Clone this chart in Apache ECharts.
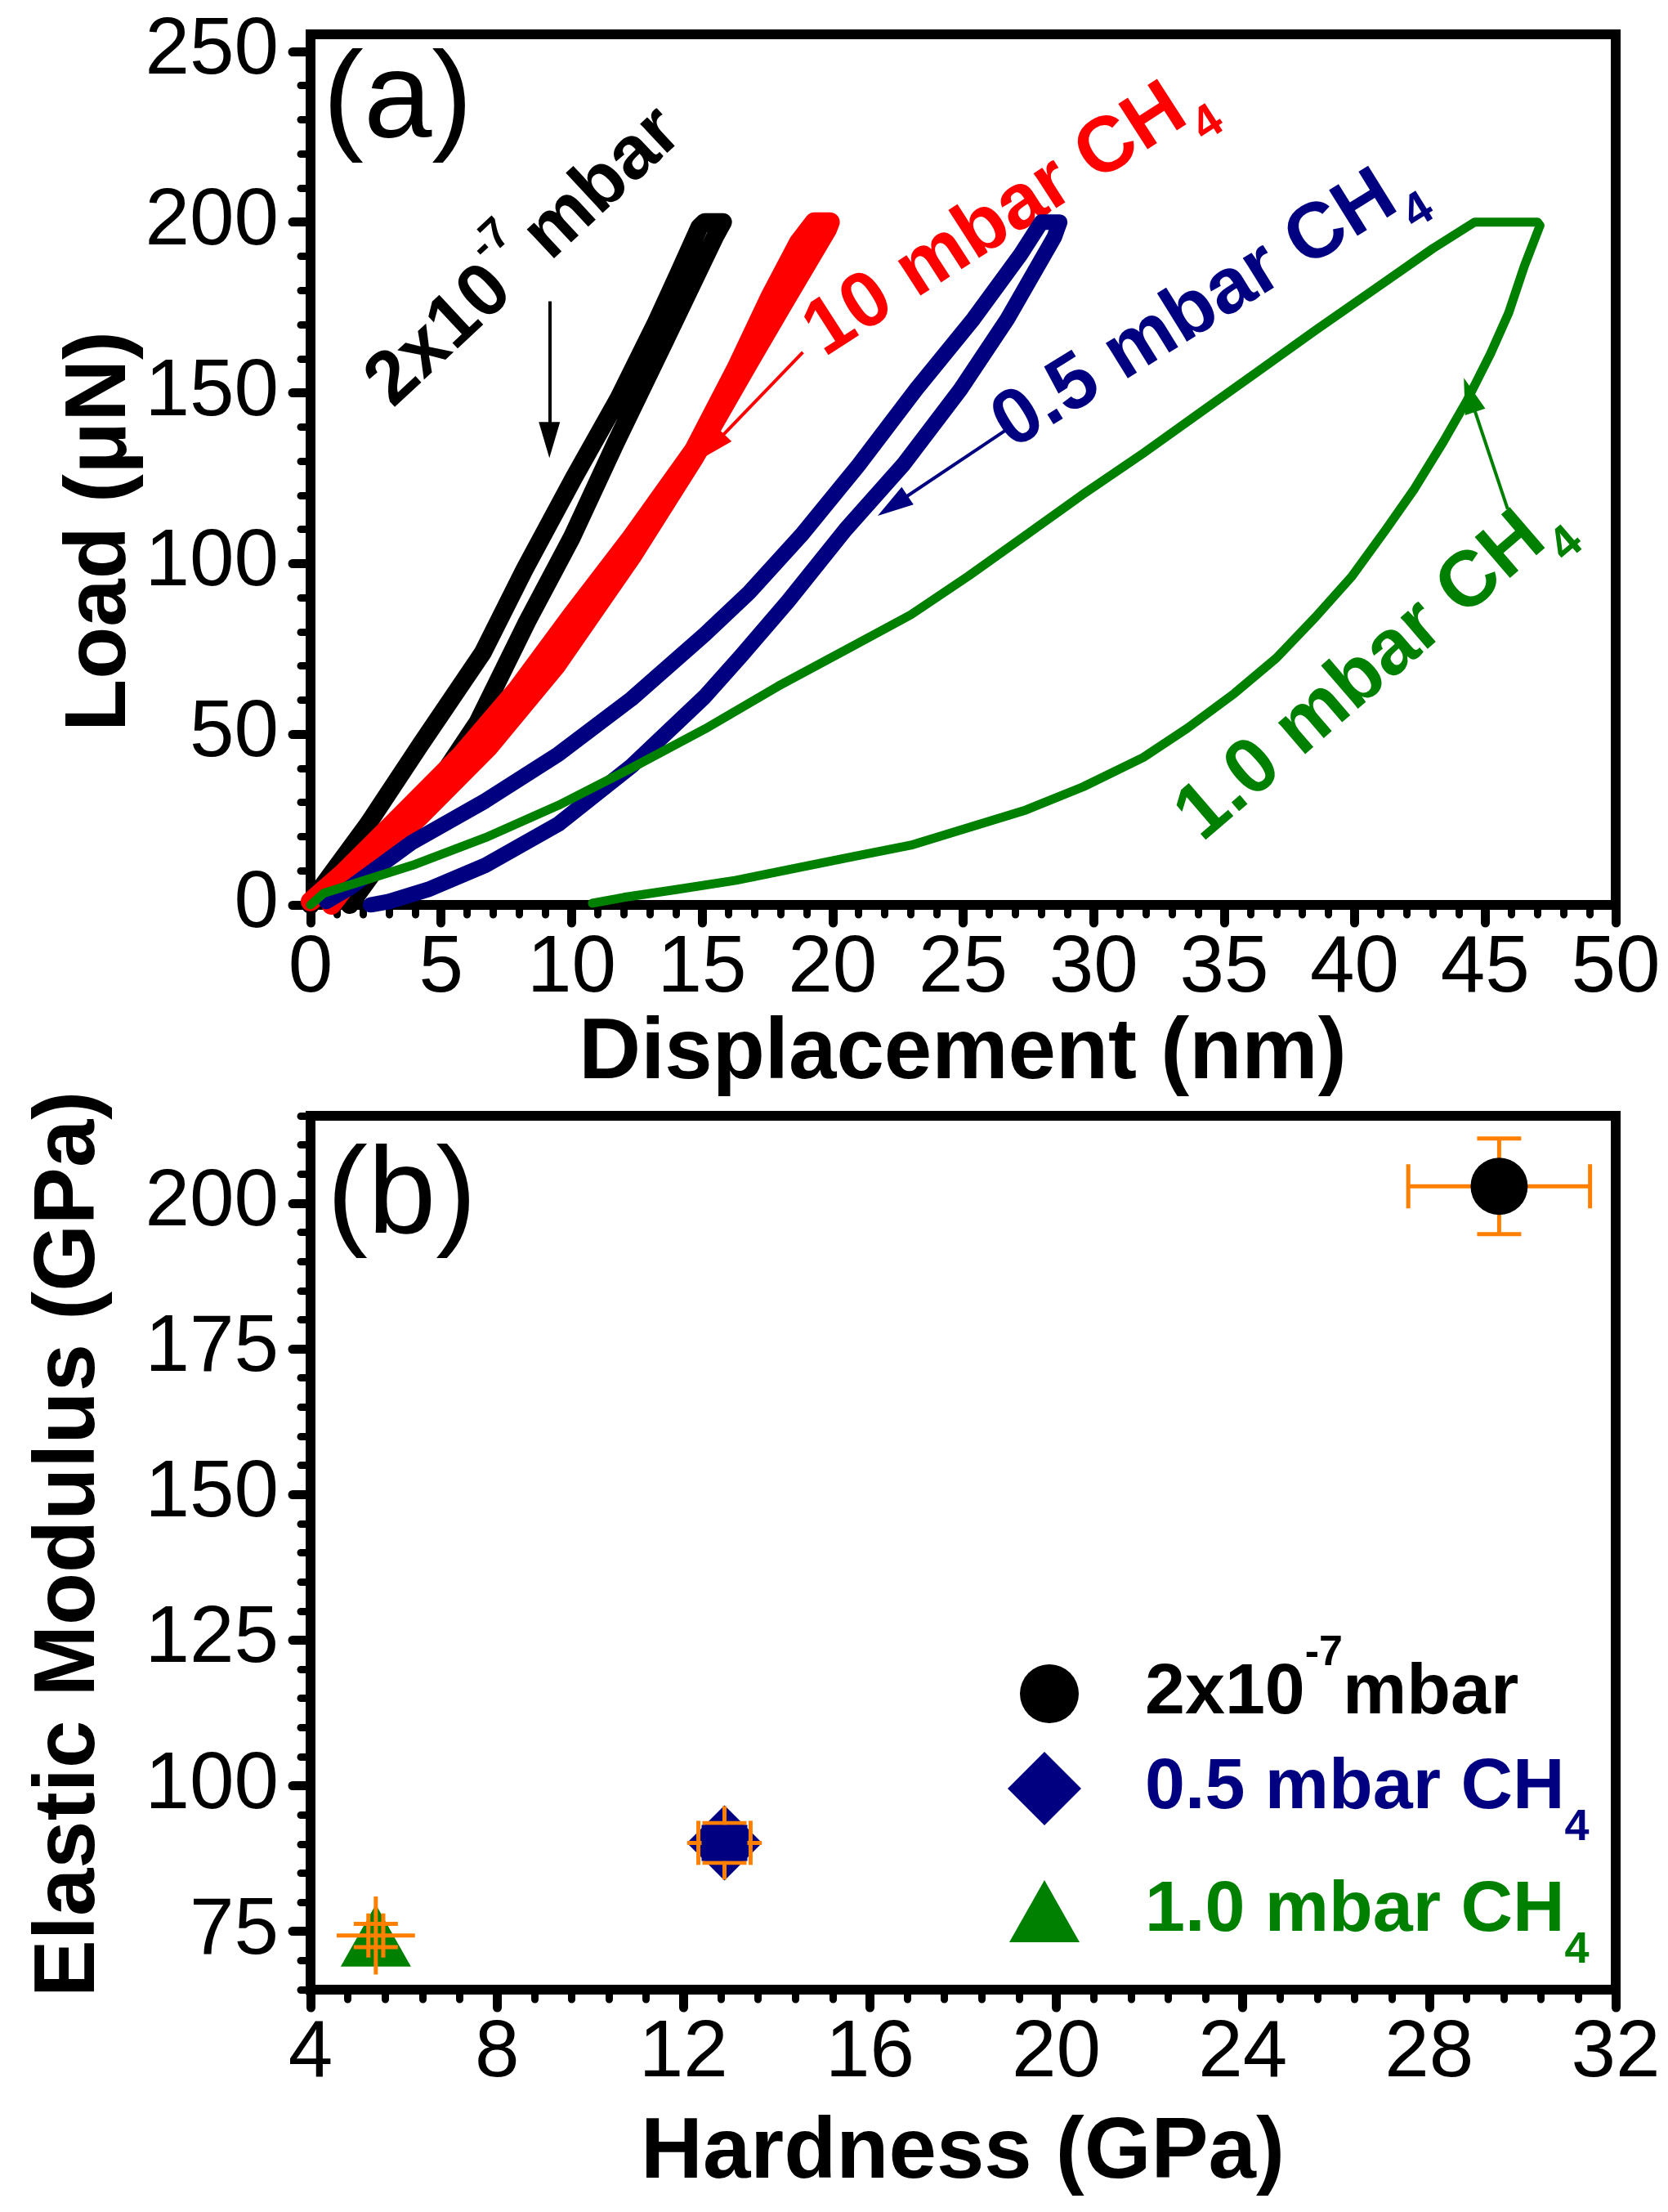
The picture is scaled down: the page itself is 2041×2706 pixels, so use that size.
<!DOCTYPE html>
<html>
<head>
<meta charset="utf-8">
<title>Load-displacement and modulus vs hardness</title>
<script src="https://cdn.jsdelivr.net/npm/echarts@6/dist/echarts.min.js"></script>
<style>
  html, body { margin: 0; padding: 0; background: #fff; }
  #chart { width: 2041px; height: 2706px; }
</style>
</head>
<body>
<div id="chart"></div>
<script>
// ---- (a) load vs displacement: loading -> hold -> unloading, [nm, uN] ----
const curveVacuum = [[0,0],[0.5,6],[2.2,23.7],[4.2,46.8],[6.6,73.9],[8.2,98.3],[10.1,125.3],[11.8,148.4],[13.2,170],[14.1,185],[14.9,198.6],[15.1,200],
  [15.8,200],[15.5,195.8],[13.6,165.5],[11.7,135.5],[10.0,107.5],[8.3,83],[6.4,53.5],[4.0,26],[2.4,9.5],[1.5,0]];
const curveCH4_10 = [[0,1],[1.2,9],[3.5,26.5],[5.8,44.2],[7.9,63],[10.0,84.7],[12.3,107.7],[14.7,133.4],[16.3,157],[17.6,178],[18.7,194],[19.3,200],
  [19.9,200],[19.8,198],[18.1,176],[16.8,159],[14.7,131],[12.3,102],[9.4,70],[6.8,46],[4.2,26],[1.5,7],[0.8,0]];
const curveCH4_05 = [[0.6,1],[1.5,5],[3.9,18.4],[6.7,30.5],[9.5,44.2],[12.3,60.4],[15.1,79.2],[16.8,91.5],[18.8,108.3],[21.0,128.9],[23.2,151],[25.4,171.7],[27.2,190.5],[28.0,200],
  [28.7,200],[28.5,195.7],[26.7,171.7],[24.9,151],[22.7,128.9],[20.5,110],[18.3,89],[16.5,73],[15.1,61],[12.3,40.7],[9.5,23.7],[6.7,11.6],[4.5,4.5],[3.0,1],[2.3,0]];
const curveCH4_1 = [[0,0],[0.5,3.4],[3.9,11.6],[6.7,19.7],[9.5,29.2],[12.3,40.1],[15.1,51.5],[17.9,64],[20.7,75.5],[23.0,85],[25.2,96.3],[27.4,108.3],[29.6,120.3],[31.9,132.3],[34.1,144.3],[36.3,156.3],[38.5,168.3],[40.75,180.3],[43.0,192.3],[44.6,200],
  [47.0,200],[47.1,199],[46.5,187.1],[45.9,173.4],[45.2,161.4],[44.3,147.7],[43.4,135.7],[42.3,122],[41.2,110],[39.9,96.3],[38.5,84.3],[37.0,72.3],[35.4,62],[33.6,51.8],[31.9,43.2],[29.6,34.6],[27.4,27.8],[25.2,22.6],[23.0,17.5],[20.75,14.1],[18.5,10.6],[16.3,7.2],[14.0,4.5],[12.0,2.2],[10.8,0.5]];

// annotation arrows, data coords [start, tip]
const arrowVacuum = [[9.15, 176.8], [9.15, 136.2]];
const arrowCH4_10 = [[18.86, 161.9], [15.36, 134.1]];
const arrowCH4_05 = [[26.64, 139.1], [22.3, 116.9]];
const arrowCH4_1 = [[45.86, 116], [44.4, 149.4]];

// ---- (b) elastic modulus vs hardness ----
const sampleNames = ['2x10-7 mbar', '0.5 mbar CH4', '1.0 mbar CH4'];
const hardness = [29.5, 12.88, 5.4];
const modulus = [202.9, 90.2, 74.3];
const hardnessErr = [1.95, 0.8, 0.84];
const modulusErr = [8.2, 6.3, 6.7];
const hardnessCap = [1.95, 0.56, 0.16];
const modulusCap = [8.2, 3.4, 2.0];

// ---- axis ticks ----
const dispTicks = [0, 5, 10, 15, 20, 25, 30, 35, 40, 45, 50];
const loadTicks = [0, 50, 100, 150, 200, 250];
const hardTicks = [4, 8, 12, 16, 20, 24, 28, 32];
const modTicks = [75, 100, 125, 150, 175, 200];

function minorBetween(from, to, step, majors) {
  const out = [];
  const n = Math.round((to - from) / step);
  for (let i = 0; i <= n; i++) {
    const v = Math.round((from + i * step) * 100) / 100;
    if (majors.indexOf(v) < 0) out.push(v);
  }
  return out;
}
const dispMinor = minorBetween(0, 50, 1, dispTicks);
const loadMinor = minorBetween(0, 250, 10, loadTicks);
const hardMinor = minorBetween(4, 32, 0.8, hardTicks);
const modMinor = minorBetween(65, 215, 5, modTicks);

const FONT = 'Liberation Sans';
const ORANGE = '#ff8000';
const NAVY = '#000080';
const GREEN = '#008000';
const RED = '#ff0000';

const chart = echarts.init(document.getElementById('chart'));

const gridA = { left: 380, top: 42, width: 1597, height: 1065 };
const gridB = { left: 380, top: 1365, width: 1597, height: 1069 };

function majorAxis(gridIndex, min, max, ticks, pos, margin) {
  return {
    type: 'value', gridIndex, min, max, position: pos,
    axisLine: { show: true, onZero: false, lineStyle: { color: '#000', width: 12 } },
    axisTick: { show: true, inside: false, length: 22, customValues: ticks, lineStyle: { color: '#000', width: 11, cap: 'round' } },
    axisLabel: { show: true, customValues: ticks, margin, color: '#000', fontSize: 98, fontFamily: FONT },
    splitLine: { show: false }
  };
}
function minorAxis(gridIndex, min, max, ticks, pos) {
  return {
    type: 'value', gridIndex, min, max, position: pos,
    axisLine: { show: false, onZero: false },
    axisTick: { show: true, inside: false, length: 12, customValues: ticks, lineStyle: { color: '#000', width: 9, cap: 'round' } },
    axisLabel: { show: false },
    splitLine: { show: false }
  };
}

function arrowLine(pts, color) {
  return {
    silent: true, animation: false,
    symbol: ['none', 'triangle'],
    symbolSize: 34,
    label: { show: false },
    emphasis: { disabled: true },
    lineStyle: { color, width: 4, type: 'solid' },
    data: [[{ coord: pts[0] }, { coord: pts[1], symbolSize: [26, 44] }]]
  };
}

function loadCurve(name, data, color, width, arrow) {
  return {
    name, type: 'line', xAxisIndex: 0, yAxisIndex: 0, data,
    showSymbol: false, symbol: 'none', silent: true,
    lineStyle: { color, width, join: 'round', cap: 'round' },
    markLine: arrowLine(arrow, color)
  };
}

function renderErrorBar(params, api) {
  const x = api.value(0), y = api.value(1);
  const ex = api.value(2), ey = api.value(3), cx = api.value(4), cy = api.value(5);
  const c = api.coord([x, y]);
  const l = api.coord([x - ex, y]), r = api.coord([x + ex, y]);
  const t = api.coord([x, y + ey]), b = api.coord([x, y - ey]);
  const cl = api.coord([x - cx, y]), cr = api.coord([x + cx, y]);
  const ct = api.coord([x, y + cy]), cb = api.coord([x, y - cy]);
  const h = 27;
  const style = { stroke: ORANGE, lineWidth: 5, fill: null };
  const seg = (p1, p2) => ({ type: 'line', shape: { x1: p1[0], y1: p1[1], x2: p2[0], y2: p2[1] }, style });
  return {
    type: 'group',
    children: [
      seg(l, r), seg(t, b),
      seg([cl[0], c[1] - h], [cl[0], c[1] + h]),
      seg([cr[0], c[1] - h], [cr[0], c[1] + h]),
      seg([c[0] - h, ct[1]], [c[0] + h, ct[1]]),
      seg([c[0] - h, cb[1]], [c[0] + h, cb[1]])
    ]
  };
}
const errorRows = hardness.map((hv, i) => [hv, modulus[i], hardnessErr[i], modulusErr[i], hardnessCap[i], modulusCap[i]]);

// rich text helpers
const LH = 140;
function richSet(size, color) {
  return {
    m: { fontSize: size, fontWeight: 'bold', fontFamily: FONT, fill: color, color, lineHeight: LH },
    g: { fontSize: Math.round(size * 0.45), fontWeight: 'bold', fontFamily: FONT, fill: color, color, lineHeight: LH },
    p: { fontSize: Math.round(size * 0.58), fontWeight: 'bold', fontFamily: FONT, fill: color, color, lineHeight: LH, verticalAlign: 'top' },
    s: { fontSize: Math.round(size * 0.6), fontWeight: 'bold', fontFamily: FONT, fill: color, color, lineHeight: LH, verticalAlign: 'bottom' }
  };
}
function tag(text, x, y, deg, color, size) {
  return {
    type: 'text', x, y, rotation: deg * Math.PI / 180, silent: true,
    style: {
      text, fill: color, fontSize: size, fontWeight: 'bold', fontFamily: FONT,
      align: 'center', verticalAlign: 'middle', textAlign: 'center', textVerticalAlign: 'middle',
      rich: richSet(size, color)
    }
  };
}
function plain(text, x, y, deg, size, weight, align) {
  return {
    type: 'text', x, y, rotation: deg * Math.PI / 180, silent: true,
    style: {
      text, fill: '#000', fontSize: size, fontWeight: weight, fontFamily: FONT,
      align: align, verticalAlign: 'middle', textAlign: align, textVerticalAlign: 'middle'
    }
  };
}

function legendBox(idx, left, top, w, h, color, gap, label) {
  return {
    data: [sampleNames[idx]], left, top, orient: 'vertical',
    itemWidth: w, itemHeight: h, padding: 0, selectedMode: false,
    formatter: () => label,
    textStyle: {
      color, fontSize: 88, fontWeight: 'bold', fontFamily: FONT,
      padding: [0, 0, 0, gap],
      rich: {
        m: { fontSize: 88, fontWeight: 'bold', fontFamily: FONT, color, lineHeight: 150 },
        p: { fontSize: 52, fontWeight: 'bold', fontFamily: FONT, color, lineHeight: 150, verticalAlign: 'top' },
        s: { fontSize: 54, fontWeight: 'bold', fontFamily: FONT, color, lineHeight: 150, verticalAlign: 'bottom' }
      }
    }
  };
}

const option = {
  backgroundColor: '#fff',
  animation: false,
  grid: [
    Object.assign({ show: true, borderColor: '#000', borderWidth: 12, backgroundColor: 'transparent' }, gridA),
    Object.assign({ show: true, borderColor: '#000', borderWidth: 12, backgroundColor: 'transparent' }, gridB)
  ],
  xAxis: [
    majorAxis(0, 0, 50, dispTicks, 'bottom', 30),
    minorAxis(0, 0, 50, dispMinor, 'bottom'),
    majorAxis(1, 4, 32, hardTicks, 'bottom', 30),
    minorAxis(1, 4, 32, hardMinor, 'bottom')
  ],
  yAxis: [
    majorAxis(0, 0, 255, loadTicks, 'left', 39),
    minorAxis(0, 0, 255, loadMinor, 'left'),
    majorAxis(1, 65, 215, modTicks, 'left', 39),
    minorAxis(1, 65, 215, modMinor, 'left')
  ],
  legend: [
    legendBox(0, 1248, 1997, 72, 72, '#000', 76, '{m|2x10}{p|-7}{m|mbar}'),
    legendBox(1, 1233, 2143, 90, 90, NAVY, 73, '{m|0.5 mbar CH}{s|4}'),
    legendBox(2, 1235, 2294, 86, 76, GREEN, 75, '{m|1.0 mbar CH}{s|4}')
  ],
  series: [
    loadCurve('vacuum', curveVacuum, '#000', 22, arrowVacuum),
    loadCurve('10 mbar CH4', curveCH4_10, RED, 24, arrowCH4_10),
    loadCurve('0.5 mbar CH4 curve', curveCH4_05, NAVY, 19, arrowCH4_05),
    loadCurve('1.0 mbar CH4 curve', curveCH4_1, GREEN, 11, arrowCH4_1),
    {
      name: sampleNames[1], type: 'scatter', xAxisIndex: 2, yAxisIndex: 2, z: 2,
      symbol: 'diamond', symbolSize: 92, itemStyle: { color: NAVY, opacity: 1 },
      data: [[hardness[1], modulus[1]]]
    },
    {
      name: sampleNames[2], type: 'scatter', xAxisIndex: 2, yAxisIndex: 2, z: 2,
      symbol: 'triangle', symbolSize: [86, 76], itemStyle: { color: GREEN, opacity: 1 },
      data: [[hardness[2], modulus[2]]]
    },
    {
      name: 'error', type: 'custom', xAxisIndex: 2, yAxisIndex: 2, z: 3, silent: true,
      renderItem: renderErrorBar, encode: { x: 0, y: 1 }, data: errorRows
    },
    {
      name: sampleNames[0], type: 'scatter', xAxisIndex: 2, yAxisIndex: 2, z: 4,
      symbol: 'circle', symbolSize: 70, itemStyle: { color: '#000', opacity: 1 },
      data: [[hardness[0], modulus[0]]]
    },
    {
      name: 'core', type: 'scatter', xAxisIndex: 2, yAxisIndex: 2, z: 5, silent: true,
      symbol: 'rect', symbolSize: [56, 44], itemStyle: { color: NAVY, opacity: 1 },
      data: [[hardness[1], modulus[1]]]
    }
  ],
  graphic: [
    plain('(a)', 395, 127, 0, 150, 'normal', 'left'),
    plain('(b)', 400, 1467, 0, 150, 'normal', 'left'),
    plain('Displacement (nm)', 1178, 1290, 0, 105, 'bold', 'center'),
    plain('Hardness (GPa)', 1178, 2635, 0, 105, 'bold', 'center'),
    plain('Load (\u03bcN)', 124, 650, 90, 105, 'bold', 'center'),
    plain('Elastic Modulus (GPa)', 86, 1889, 90, 105, 'bold', 'center'),
    tag('{m|2x10}{p|-7}{g| }{m|mbar}', 642, 315, 43, '#000', 92),
    tag('{m|10 mbar CH}{s|4}', 1232, 262, 32.8, RED, 96),
    tag('{m|0.5 mbar CH}{s|4}', 1476, 372, 31.8, NAVY, 96),
    tag('{m|1.0 mbar CH}{s|4}', 1678, 818, 40.7, GREEN, 96)
  ]
};

chart.setOption(option);
</script>
</body>
</html>
